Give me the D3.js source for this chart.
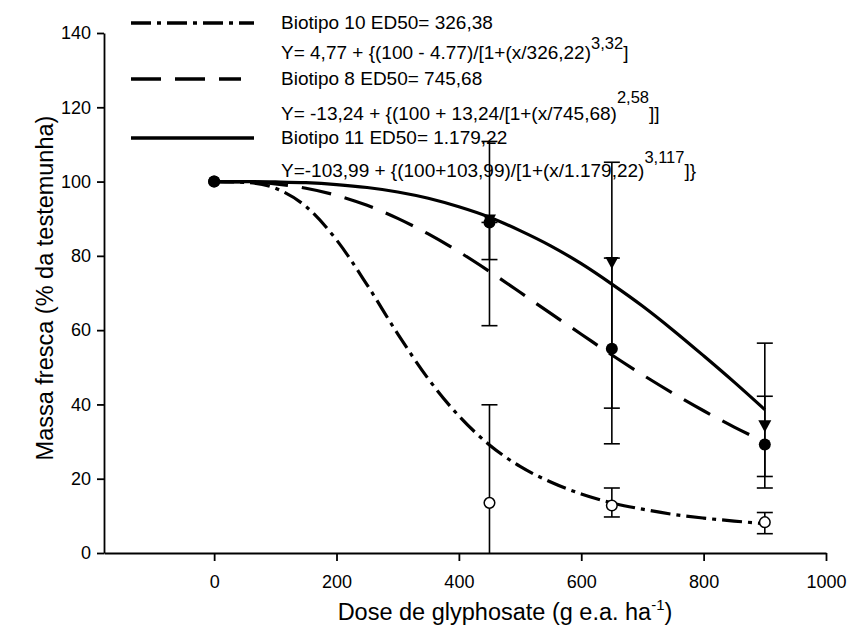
<!DOCTYPE html>
<html lang="en">
<head>
    <script src="https://d3js.org/d3.v7.min.js"></script>
    <style>
        body { margin: 0; background: #fff; }
        svg { font-family: "Liberation Sans", Arial, sans-serif; }
        .axis path, .axis line { stroke: #000; stroke-width: 1.8; }
        .axis text { font-size: 18px; fill: #000; }
    </style>
</head>
<body>
    <svg id="chart" width="849" height="634"></svg>

    <script>
    // doses with measured points
    const doses = [0, 450, 650, 900];

    // Biotipo 10 (open circle)
    const b10Mean = [100, 13.5, 12.8, 8.3];
    const b10Low  = [100, -14, 9.7, 5.2];
    const b10High = [100, 39.9, 17.5, 10.9];

    // Biotipo 8 (filled circle)
    const b8Mean = [100, 89, 55, 29.2];
    const b8Low  = [100, 61.2, 29.4, 17.5];
    const b8High = [100, 89, 79.4, 42.2];

    // Biotipo 11 (triangle)
    const b11Mean = [100, 89.5, 78.1, 34.1];
    const b11Low  = [100, 79.0, 39.0, 20.6];
    const b11High = [100, 110.8, 105.2, 56.5];

    // fitted curves
    const curveDose = [0, 50, 100, 150, 200, 250, 300, 350, 400, 450, 500, 550, 600, 650, 700, 750, 800, 850, 900];
    const b10Curve = [100, 99.8, 98.2, 93.3, 84.3, 72.2, 59.0, 46.9, 36.9, 29.1, 23.3, 19.1, 15.9, 13.5, 11.8, 10.4, 9.4, 8.6, 7.9];
    const b8Curve  = [100, 99.9, 99.4, 98.2, 96.3, 93.6, 90.1, 85.9, 81.1, 75.8, 70.2, 64.5, 58.9, 53.3, 48.0, 43.0, 38.3, 33.9, 29.9];
    const b11Curve = [100, 100, 99.9, 99.7, 99.2, 98.4, 97.2, 95.5, 93.2, 90.4, 86.8, 82.7, 77.9, 72.4, 66.5, 60.0, 53.1, 46.0, 38.6];

    const xTicks = [0, 200, 400, 600, 800, 1000];
    const yTicks = [0, 20, 40, 60, 80, 100, 120, 140];

    const svg = d3.select("#chart");

    const x = d3.scaleLinear().domain([-180, 1000]).range([104, 826]);
    const y = d3.scaleLinear().domain([0, 140]).range([553, 33]);

    const dashDot = "20,6,4,6";
    const dashed = "30,14";

    // axes
    svg.append("g")
        .attr("class", "axis")
        .attr("transform", `translate(0,${y(0)})`)
        .call(d3.axisBottom(x).tickValues(xTicks).tickFormat(d3.format("d"))
            .tickSize(8).tickSizeOuter(0).tickPadding(14));

    svg.append("g")
        .attr("class", "axis")
        .attr("transform", `translate(${x(-180)},0)`)
        .call(d3.axisLeft(y).tickValues(yTicks).tickSize(7).tickSizeOuter(0).tickPadding(6));

    // axis titles
    const xt = svg.append("text")
        .attr("x", 505)
        .attr("y", 620)
        .attr("text-anchor", "middle")
        .attr("font-size", "23.5px");
    xt.append("tspan").text("Dose de glyphosate (g e.a. ha");
    xt.append("tspan").attr("dy", -10).attr("font-size", "15px").text("-1");
    xt.append("tspan").attr("dy", 10).text(")");

    svg.append("text")
        .attr("transform", "translate(53,288) rotate(-90)")
        .attr("text-anchor", "middle")
        .attr("font-size", "23.5px")
        .text("Massa fresca (% da testemunha)");

    // curves
    function curveLine(vals) {
        return d3.line()
            .x((d, i) => x(curveDose[i]))
            .y(d => y(d))
            .curve(d3.curveMonotoneX)(vals);
    }

    svg.append("path").attr("d", curveLine(b11Curve))
        .attr("fill", "none").attr("stroke", "#000").attr("stroke-width", 3.2);
    svg.append("path").attr("d", curveLine(b8Curve))
        .attr("fill", "none").attr("stroke", "#000").attr("stroke-width", 3.2)
        .attr("stroke-dasharray", dashed);
    svg.append("path").attr("d", curveLine(b10Curve))
        .attr("fill", "none").attr("stroke", "#000").attr("stroke-width", 3.2)
        .attr("stroke-dasharray", dashDot);

    // error bars (lower ends below zero are cut at the axis)
    function errorBars(low, high) {
        const g = svg.append("g").attr("stroke", "#000").attr("stroke-width", 1.6);
        doses.forEach((d, i) => {
            if (high[i] === low[i]) return;
            const cx = x(d);
            const yl = y(Math.max(0, low[i]));
            const yh = y(high[i]);
            g.append("line").attr("x1", cx).attr("x2", cx).attr("y1", yl).attr("y2", yh);
            if (low[i] > 0) g.append("line").attr("x1", cx - 8).attr("x2", cx + 8).attr("y1", yl).attr("y2", yl);
            g.append("line").attr("x1", cx - 8).attr("x2", cx + 8).attr("y1", yh).attr("y2", yh);
        });
    }
    errorBars(b10Low, b10High);
    errorBars(b8Low, b8High);
    errorBars(b11Low, b11High);

    // markers (the control point is shown only by the filled circle)
    svg.append("g").selectAll("path")
        .data(b11Mean.map((v, i) => ({ dose: doses[i], v })).filter(d => d.dose > 0))
        .join("path")
        .attr("d", "M-6.5,-6 L6.5,-6 L0,6 Z")
        .attr("transform", d => `translate(${x(d.dose)},${y(d.v)})`)
        .attr("fill", "#000");

    svg.append("g").selectAll("circle")
        .data(b10Mean)
        .join("circle")
        .attr("cx", (d, i) => x(doses[i]))
        .attr("cy", d => y(d))
        .attr("r", 5.3)
        .attr("fill", "#fff")
        .attr("stroke", "#000")
        .attr("stroke-width", 1.5);

    svg.append("g").selectAll("circle")
        .data(b8Mean)
        .join("circle")
        .attr("cx", (d, i) => x(doses[i]))
        .attr("cy", d => y(d))
        .attr("r", 6)
        .attr("fill", "#000");

    // legend
    const legend = svg.append("g").attr("font-size", "19px");
    const legendRows = [
        { y: 23, dash: dashDot, x2: 254, label: "Biotipo 10 ED50= 326,38" },
        { y: 79, dash: dashed, x2: 241, label: "Biotipo 8 ED50= 745,68" },
        { y: 138, dash: null, x2: 254, label: "Biotipo 11 ED50= 1.179,22" }
    ];
    legendRows.forEach(r => {
        legend.append("line")
            .attr("x1", 131).attr("x2", r.x2)
            .attr("y1", r.y).attr("y2", r.y)
            .attr("stroke", "#000").attr("stroke-width", 3.5)
            .attr("stroke-dasharray", r.dash);
        legend.append("text")
            .attr("x", 281).attr("y", r.y + 6)
            .text(r.label);
    });

    function formula(yBase, parts) {
        const t = legend.append("text").attr("x", 281).attr("y", yBase);
        parts.forEach(p => {
            const s = t.append("tspan").text(p[0]);
            if (p[1]) s.attr("dy", p[1]);
            if (p[2]) s.attr("font-size", p[2]);
        });
    }
    formula(59, [["Y= 4,77 + {(100 - 4.77)/[1+(x/326,22)"], ["3,32", -10, "16.5px"], ["]", 10]]);
    formula(120, [["Y= -13,24 + {(100 + 13,24/[1+(x/745,68)"], ["2,58", -17, "16.5px"], ["]]", 17]]);
    formula(177, [["Y=-103,99 + {(100+103,99)/[1+(x/1.179,22)"], ["3,117", -14, "16.5px"], ["]}", 14]]);
    </script>
</body>
</html>
